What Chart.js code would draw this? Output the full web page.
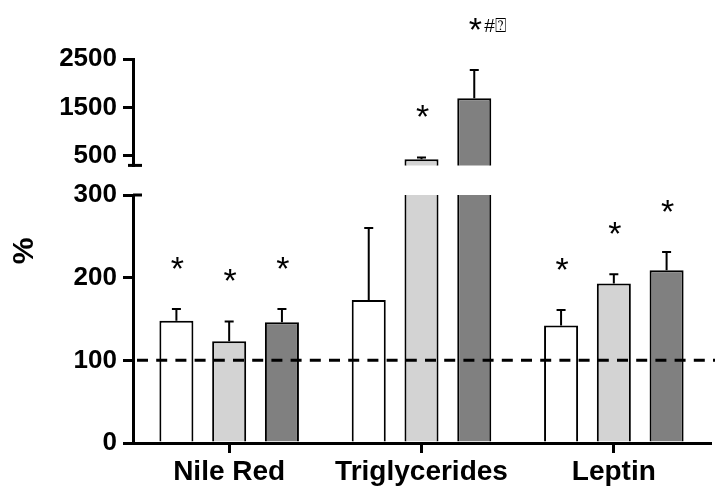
<!DOCTYPE html>
<html><head><meta charset="utf-8">
<script src="https://cdn.jsdelivr.net/npm/chart.js@4.4.0/dist/chart.umd.min.js"></script>
<style>
html,body{margin:0;padding:0;background:#fff;}
#wrap{position:relative;width:715px;height:488px;overflow:hidden;}
#c1{position:absolute;left:0;top:0;}
#c2{position:absolute;left:0;top:180px;}
</style></head><body>
<div id="wrap">
<canvas id="c1" width="715" height="180"></canvas>
<canvas id="c2" width="715" height="308"></canvas>
</div>
<script>
// ---- data ----
const categories = ['Nile Red', 'Triglycerides', 'Leptin'];
const seriesWhite = [148, 173, 142];
const errWhite    = [14, 87, 19];
const seriesLight = [123, 425, 193];
const errLight    = [24, 40, 11];
const seriesDark  = [146, 1690, 209];
const errDark     = [16, 580, 22];
const starsWhite = ['*', '', '*'];
const starsLight = ['*', '*', '*'];
const starsDark  = ['*', '*#⍰', '*'];
const lowerTicks = [0, 100, 200, 300];
const upperTicks = [500, 1500, 2500];
const breakValue = 300;
const upperMax = 2500;
const referenceLine = 100;
const yTitle = '%';

const colors = ['#ffffff', '#d3d3d3', '#808080'];
const FONT = 'Liberation Sans';

function makeDatasets(upper) {
  const src = [[seriesWhite, errWhite, starsWhite], [seriesLight, errLight, starsLight], [seriesDark, errDark, starsDark]];
  return src.map((s, i) => ({
    data: s[0].map(v => upper ? (v > breakValue ? v : null) : v),
    errors: s[1], stars: s[2],
    backgroundColor: colors[i], borderColor: '#000', borderWidth: 2,
    categoryPercentage: 0.823, barPercentage: 0.645
  }));
}

function yScale(min, max, tickArr) {
  return {
    type: 'linear', min: min, max: max,
    afterBuildTicks: s => { s.ticks = tickArr.map(v => ({ value: v })); },
    afterFit: s => { s.width = 133; s.paddingTop = 0; s.paddingBottom = 0; },
    border: { display: true, color: '#000', width: 3 },
    grid: { display: true, drawOnChartArea: false, drawTicks: true, tickLength: 10, tickWidth: 3, tickColor: '#000', color: '#000', lineWidth: 3 },
    ticks: { color: '#000', padding: 6, callback: v => String(v), font: { family: FONT, weight: 'bold', size: 26 } }
  };
}

const errorPlugin = {
  id: 'errs',
  afterDatasetsDraw(chart) {
    const ctx = chart.ctx, y = chart.scales.y;
    ctx.save();
    chart.data.datasets.forEach((ds, i) => {
      const meta = chart.getDatasetMeta(i);
      meta.data.forEach((el, j) => {
        const v = ds.data[j];
        if (v == null || v > y.max) return;
        const py = y.getPixelForValue(v + ds.errors[j]);
        ctx.strokeStyle = '#000'; ctx.lineWidth = 2; ctx.setLineDash([]);
        ctx.beginPath();
        ctx.moveTo(el.x, el.y); ctx.lineTo(el.x, py);
        ctx.moveTo(el.x - 4.5, py); ctx.lineTo(el.x + 4.5, py);
        ctx.stroke();
        const s = ds.stars[j];
        if (s) {
          const cy = py - 46;
          ctx.fillStyle = '#000';
          ctx.font = '34px "' + FONT + '"';
          ctx.textAlign = 'center'; ctx.textBaseline = 'alphabetic';
          const m = ctx.measureText('*');
          const off = (m.actualBoundingBoxAscent - m.actualBoundingBoxDescent) / 2;
          ctx.fillText('*', el.x + 1, cy + off);
          const rest = s.slice(1);
          if (rest) {
            ctx.font = '19px "' + FONT + '"';
            ctx.textAlign = 'left';
            const m2 = ctx.measureText('#');
            const off2 = (m2.actualBoundingBoxAscent - m2.actualBoundingBoxDescent) / 2;
            ctx.fillText(rest, el.x + 10, cy + off2 + 1);
          }
        }
      });
    });
    ctx.restore();
  }
};

const upperPlugin = {
  id: 'upperDeco',
  afterDraw(chart) {
    const ctx = chart.ctx, a = chart.chartArea;
    ctx.save();
    ctx.strokeStyle = '#000'; ctx.lineWidth = 3;
    ctx.beginPath(); ctx.moveTo(a.left - 5, a.bottom); ctx.lineTo(a.left + 9, a.bottom); ctx.stroke();
    ctx.restore();
  }
};

const lowerPlugin = {
  id: 'lowerDeco',
  afterDatasetsDraw(chart) {
    const ctx = chart.ctx, a = chart.chartArea, y = chart.scales.y;
    ctx.save();
    const py = y.getPixelForValue(referenceLine);
    ctx.strokeStyle = '#000'; ctx.lineWidth = 3; ctx.setLineDash([11, 8.2]); ctx.lineDashOffset = -4;
    ctx.beginPath(); ctx.moveTo(a.left, py); ctx.lineTo(chart.width, py); ctx.stroke();
    ctx.restore();
  },
  afterDraw(chart) {
    const ctx = chart.ctx, a = chart.chartArea;
    ctx.save();
    ctx.strokeStyle = '#000'; ctx.lineWidth = 3;
    ctx.beginPath(); ctx.moveTo(a.left, a.top); ctx.lineTo(a.left + 9, a.top); ctx.stroke();
    // y title, centred on the full broken axis (upper top .. lower bottom)
    const up = upperChart.chartArea;
    const offsetTop = 180;
    const cy = ((up.top) + (a.bottom + offsetTop)) / 2 - offsetTop;
    ctx.translate(25, cy); ctx.rotate(-Math.PI / 2);
    ctx.fillStyle = '#000'; ctx.font = 'bold 30px "' + FONT + '"';
    ctx.textAlign = 'center'; ctx.textBaseline = 'middle';
    ctx.fillText(yTitle, 0, 0);
    ctx.restore();
  }
};

const common = {
  responsive: false, animation: false,
  plugins: { legend: { display: false }, tooltip: { enabled: false } }
};

const upperChart = new Chart(document.getElementById('c1'), {
  type: 'bar',
  data: { labels: categories, datasets: makeDatasets(true) },
  options: Object.assign({}, common, {
    layout: { padding: { top: 59, bottom: 14.6, left: 0, right: 5 } },
    scales: {
      x: { type: 'category', offset: true, display: false },
      y: yScale(breakValue, upperMax, upperTicks)
    }
  }),
  plugins: [errorPlugin, upperPlugin]
});

const lowerChart = new Chart(document.getElementById('c2'), {
  type: 'bar',
  data: { labels: categories, datasets: makeDatasets(false) },
  options: Object.assign({}, common, {
    layout: { padding: { top: 15, bottom: 0, left: 0, right: 5 } },
    scales: {
      x: {
        type: 'category', offset: true,
        afterFit: s => { s.height = 45; },
        border: { display: true, color: '#000', width: 3 },
        grid: { display: true, offset: false, drawOnChartArea: false, drawTicks: true, tickLength: 10, tickWidth: 3, tickColor: '#000', color: '#000', lineWidth: 3 },
        ticks: { color: '#000', padding: 2, maxRotation: 0, autoSkip: false, font: { family: FONT, weight: 'bold', size: 28 } }
      },
      y: yScale(0, breakValue, lowerTicks)
    }
  }),
  plugins: [errorPlugin, lowerPlugin]
});
</script>
</body></html>
